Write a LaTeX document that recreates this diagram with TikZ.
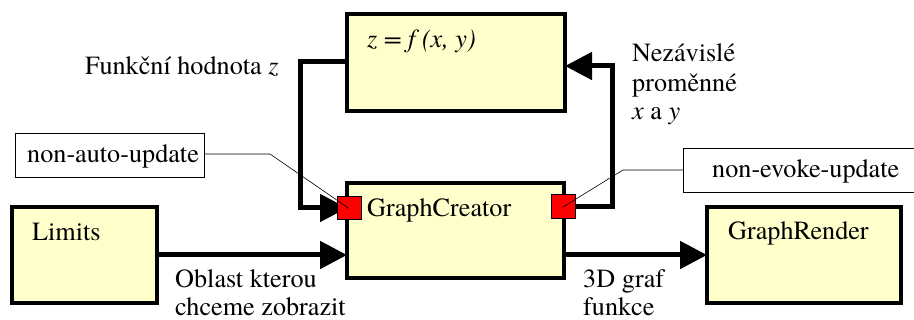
\documentclass[tikz,border=0pt]{standalone}
\usepackage{fontspec}
\setmainfont{TeX Gyre Termes}
\usetikzlibrary{arrows.meta}
\definecolor{boxfill}{HTML}{FFFFCC}
\tikzset{
  blk/.style={draw=black, line width=3.5pt, fill=boxfill},
  port/.style={draw=black, line width=1pt, fill=red},
  flow/.style={line width=5pt, line cap=butt, line join=miter},
  bigtip/.style={-{Triangle[length=27pt,width=27pt]}},
  note/.style={draw=black, line width=0.8pt, fill=white},
  lead/.style={line width=0.6pt},
  lbl/.style={anchor=base west, inner sep=0pt, font=\fontsize{26.2}{30}\selectfont},
}
\begin{document}
\begin{tikzpicture}[x=1pt,y=-1pt]
\useasboundingbox (0,0) rectangle (914,320);
% blocks
\draw[blk] (347,14) rectangle (565,111);
\coordinate (fL) at (347,62);
\coordinate (fR) at (565,66);
\draw[blk] (347,183) rectangle (564,278);
\draw[blk] (12,207) rectangle (157,303);
\draw[blk] (707,207) rectangle (901,303);
\coordinate (gcL) at (347,255);
\coordinate (gcR) at (564,255);
\coordinate (limR) at (157,255);
\coordinate (grL) at (707,255);
% labels in blocks
\node[lbl] (ftxt) at (367,48) {\itshape z = f (x, y)};
\node[lbl] (gctxt) at (367,217) {GraphCreator};
\node[lbl] (limtxt) at (32,241) {Limits};
\node[lbl] (grtxt) at (728,240) {GraphRender};
% ports
\node[port, minimum width=24pt, minimum height=23pt, inner sep=0pt] (p1) at (349,208.5) {};
\node[port, minimum width=24pt, minimum height=24pt, inner sep=0pt] (p2) at (563,207) {};
% connectors
\draw[flow,bigtip] (fL) -- (300,62) -- (300,208) -- (347,208);
\draw[flow,bigtip] (p2.east) -- (612,207) -- (612,66) -- (fR);
\draw[flow,bigtip] (limR) -- (gcL);
\draw[flow,bigtip] (gcR) -- (grL);
% redraw ports on top
\node[port, minimum width=24pt, minimum height=23pt, inner sep=0pt] at (349,208.5) {};
\node[port, minimum width=24pt, minimum height=24pt, inner sep=0pt] at (563,207) {};
% notes
\draw[note] (15,133) rectangle (204,177);
\node[lbl] (n1) at (27,163) {non-auto-update};
\draw[note] (683,148) rectangle (930,192);
\node[lbl] (n2) at (712,178) {non-evoke-update};
\draw[lead] (204,154) -- (270,154) -- (p1.center);
\draw[lead] (683,170) -- (623,170) -- (p2.center);
% flow labels
\node[lbl] (fz) at (85,75) {Funkční hodnota \textit{z}};
\node[lbl] (nz1) at (632,62) {Nezávislé};
\node[lbl] (nz2) at (632,92) {proměnné};
\node[lbl] (nz3) at (632,120) {\textit{x} a \textit{y}};
\node[lbl] (ob1) at (175,288) {Oblast kterou};
\node[lbl] (ob2) at (175,316) {chceme zobrazit};
\node[lbl] (gf1) at (583,288) {3D graf};
\node[lbl] (gf2) at (583,316) {funkce};
\end{tikzpicture}
\end{document}
